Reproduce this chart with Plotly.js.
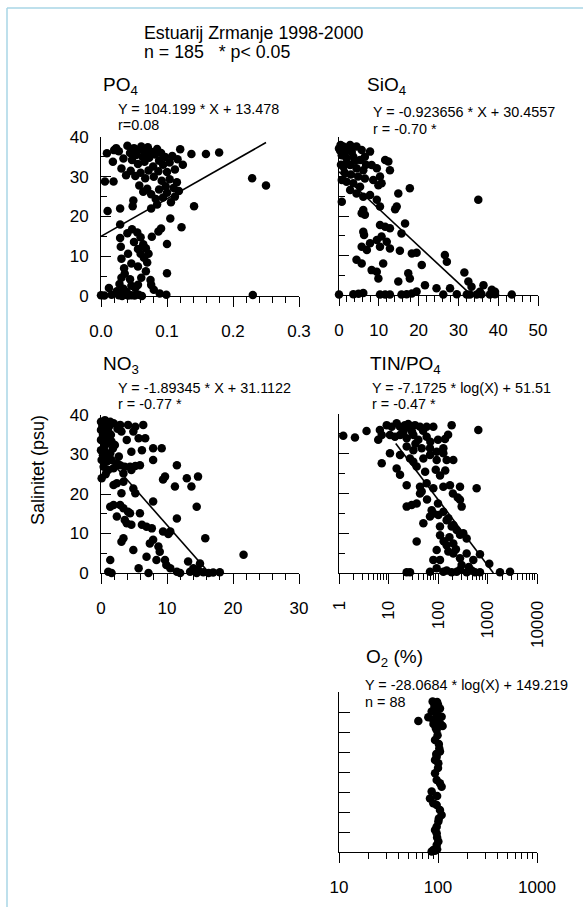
<!DOCTYPE html>
<html>
<head>
<meta charset="utf-8">
<script src="https://cdn.plot.ly/plotly-3.0.1.min.js"></script>
<style>html,body{margin:0;padding:0;background:#fff;}#chart{width:583px;height:907px;}</style>
</head>
<body>
<div id="chart"></div>
<script>
// ---------------- DATA ----------------
const po4Pts = [
[0.009,35.9],[0.020,36.7],[0.023,37.2],[0.018,33.8],[0.006,28.8],[0.019,28.8],[0.010,21.4],[0.031,32.1],
[0.040,37.8],[0.044,36.0],[0.047,34.2],[0.050,37.2],[0.053,35.5],[0.056,33.2],[0.058,36.8],[0.061,37.6],[0.063,35.0],[0.066,33.8],[0.068,36.4],[0.071,37.4],[0.073,34.8],[0.076,36.2],[0.079,32.6],[0.082,35.6],[0.085,37.0],[0.088,34.0],[0.091,36.0],[0.094,33.0],[0.097,35.0],[0.100,31.2],[0.104,33.6],[0.108,35.2],[0.112,31.8],[0.116,34.4],[0.120,36.9],[0.124,33.0],
[0.045,31.5],[0.052,30.2],[0.060,31.0],[0.067,29.6],[0.072,31.6],[0.080,30.0],[0.087,31.4],[0.092,29.0],[0.098,27.6],[0.104,29.4],[0.110,27.2],[0.115,28.6],[0.118,26.4],
[0.058,27.8],[0.064,26.2],[0.070,27.0],[0.076,25.6],[0.083,24.4],[0.088,26.8],[0.094,24.8],[0.100,26.0],[0.106,23.6],[0.112,25.0],[0.076,22.0],[0.085,23.0],
[0.029,22.0],[0.048,22.6],[0.049,24.0],[0.038,30.4],[0.034,34.6],[0.027,36.4],
[0.137,35.7],[0.159,35.7],[0.179,36.1],[0.229,29.6],[0.250,27.8],[0.141,22.6],
[0.029,18.0],[0.122,17.3],[0.105,19.5],[0.091,17.0],[0.087,16.2],[0.100,13.1],[0.100,5.7],[0.077,14.9],
[0.029,14.6],[0.040,15.8],[0.047,16.8],[0.055,16.0],[0.060,14.8],[0.064,13.0],[0.056,11.8],[0.068,12.0],[0.072,10.6],[0.030,12.4],[0.031,9.4],[0.046,8.2],[0.056,7.4],[0.065,9.6],[0.070,8.4],[0.060,10.6],[0.050,13.6],[0.035,7.0],[0.041,10.6],[0.036,5.6],[0.044,4.2],[0.031,4.6],[0.028,3.0],[0.046,2.6],[0.052,2.0],[0.034,1.8],[0.039,1.0],[0.056,2.8],[0.061,4.6],[0.068,6.2],[0.075,4.0],[0.076,2.8],[0.080,1.6],[0.089,0.6],[0.024,1.2],[0.012,2.0],
[0.000,0.2],[0.005,0.1],[0.016,0.3],[0.027,0.2],[0.032,0.0],[0.036,0.3],[0.041,0.1],[0.046,0.2],[0.051,0.1],[0.057,0.3],[0.062,0.0],[0.099,0.3],[0.230,0.25]
];
const po4LineX = [0, 0.25];
const po4LineY = [15.0, 38.6];

const sio4Pts = [
[0,37.1],[1.1,37.6],[2.8,38.0],[4.4,37.6],[5.7,36.7],[7.8,36.3],
[0.7,35.4],[1.9,34.6],[3.6,35.0],[5.3,34.2],[6.5,35.0],
[1.1,32.5],[2.8,32.9],[4.4,32.1],[6.1,31.6],
[8.2,32.9],[9.5,32.1],[11.6,34.2],[12.4,33.8],[12.8,31.6],[10.3,30.0],
[0.7,29.1],[1.9,28.7],[3.6,28.3],[5.3,27.4],[6.5,29.5],[8.6,29.1],[9.9,27.8],[10.7,28.3],
[2.8,26.6],[4.4,25.7],[6.1,24.9],[7.8,25.3],[0.7,23.6],[9.5,24.1],[10.3,22.4],
[14.9,25.7],[17.8,27.0],[35.0,24.1],[14.5,22.4],[14.1,21.7],
[6.1,21.5],[6.5,20.3],[5.7,20.7],[10.3,17.7],[11.6,17.3],[12.8,16.9],
[16.6,18.1],[6.1,16.0],[6.3,15.2],[15.7,15.6],
[7.8,13.1],[9.5,13.9],[10.7,14.8],[10.3,12.2],[12.0,13.5],[12.8,11.8],[5.7,12.2],[7.0,11.4],
[15.3,11.2],[18.3,10.5],[19.5,10.7],[20.8,7.6],[26.6,10.1],[27.1,8.4],
[4.4,8.9],[5.7,8.0],[8.2,6.3],[9.5,5.9],[9.9,4.2],[11.1,8.0],
[14.9,3.4],[17.4,5.5],[17.8,4.2],[21.6,2.5],[24.5,1.7],[27.9,1.7],[31.5,5.7],
[32.5,3.4],[33.3,2.1],[36.3,2.5],[35.4,0.8],[39.2,0.8],[38.4,1.3],
[0,0.1],[3.6,0.2],[4.9,0.3],[6.1,0.5],[10.3,0.1],[11.6,0.1],[12.8,0.1],[15.7,0.1],[17.0,0.2],[18.3,0.4],[19.5,0.9],[26.2,0.1],[29.6,0.2],[32.1,0.1],[32.9,0.1],[34.6,0.1],[35.8,0.2],[37.9,0.1],[39.2,0.2],[43.4,0.1],
[0.3,36.5],[1.5,36.0],[2.2,37.0],[3.2,36.2],[4.0,34.0],[2.0,33.5],[0.5,33.0],[1.4,31.0],[3.0,30.5],[4.8,30.0],[0.4,38.0],[6.8,33.0]
];
const sio4LineX = [0, 33];
const sio4LineY = [31.2, 0.2];

const no3Pts = [
[0,38.3],[0.6,38.7],[1.4,38.3],[1.9,37.9],[0,36.2],[0.6,36.6],[1.1,35.8],
[0,33.7],[0.4,34.1],[0.9,32.8],[1.6,33.3],[2.1,32.4],[0,31.1],[0.6,30.7],[1.4,30.3],
[0.1,28.6],[0.9,28.2],[1.6,28.6],[2.4,27.8],[0.4,26.9],[1.1,26.1],[1.9,26.5],
[2.9,37.5],[3.1,35.8],[4.1,37.5],[4.9,35.8],[5.2,37.0],[6.4,37.5],
[3.9,33.7],[5.7,34.1],[6.7,34.1],[4.6,30.7],[6.2,31.1],[7.9,31.6],[9.2,31.6],[7.9,28.6],
[2.9,27.3],[3.6,26.9],[4.4,26.9],[5.2,27.1],[5.9,27.3],[3.4,25.2],[4.6,26.1],
[11.5,27.3],[9.7,24.4],[9.4,23.7],[13.0,24.0],[13.7,21.9],[14.7,24.4],[11.2,21.9],
[1.9,22.3],[2.4,22.7],[3.4,23.1],[4.9,21.4],[5.2,20.2],[3.1,20.2],[7.9,18.1],[14.5,16.8],
[1.4,16.8],[1.9,17.2],[2.9,17.2],[3.4,16.4],[4.1,15.5],[4.4,15.1],
[2.4,14.3],[3.6,13.4],[3.9,12.6],[4.6,12.2],[5.9,15.1],[6.2,12.2],[6.9,11.7],[7.7,11.3],
[11.5,13.8],[9.4,10.5],[10.5,10.5],[10.2,9.9],
[3.4,8.8],[3.1,7.9],[7.9,8.4],[8.7,6.7],[7.4,7.5],[8.9,5.4],[8.4,3.3],[4.9,5.8],[6.9,4.1],
[15.8,8.8],[21.6,4.6],[13.2,2.9],[14.0,1.2],[15.0,2.4],[14.7,0.8],
[1.4,3.3],[1.1,0.3],[1.6,0.0],[5.7,1.2],[7.2,0],[10.5,1.2],[11.5,0.3],[12.0,0],[13.5,0.3],[14.5,0],[15.5,0.2],[16.3,0],[17.0,0.1],[18.0,0.2],
[9.9,2.0],[9.7,3.3],
[0.3,35.0],[0.8,34.5],[1.2,37.0],[0.2,37.2],[0.5,32.0],[1.0,29.5],[0.3,29.8],[1.5,35.0],[2.5,36.5],[1.8,31.5],[2.7,29.5],[0.1,24.0],[0.7,25.0]
];
const no3LineX = [0, 16.4];
const no3LineY = [31.1, 0];

const tinPts = [
[1.22,34.5],[2.1,34.1],[3.6,35.7],[6.7,36.0],[7.3,34.7],[6.2,33.5],
[9.2,37.2],[11.6,36.8],[14.6,37.7],[17.1,36.8],[21.5,37.2],[27.2,36.4],[34.3,37.2],[43.3,36.8],[59.0,36.8],[80.5,36.8],[188.8,37.2],
[10.7,34.7],[13.5,34.3],[17.1,34.7],[23.3,33.9],[31.8,34.7],[40.1,33.5],[59.0,34.3],
[138.5,33.7],[652.3,36.0],
[10.7,30.1],[17.1,29.7],[27.2,28.8],[7.3,27.6],[14.6,26.3],[17.1,24.7],
[23.3,22.1],[43.3,21.7],[59.0,22.6],[80.5,21.3],[128.2,21.7],[174.7,22.1],[278.2,21.7],[603.7,21.3],
[31.8,28.0],[37.1,26.8],[50.6,28.8],[68.9,29.7],[94.0,28.4],[128.2,30.1],[149.6,28.4],[204.0,28.4],
[23.3,31.8],[31.8,30.9],[46.8,31.4],[68.9,31.4],[94.0,30.5],[128.2,31.4],
[43.3,20.0],[46.8,20.5],[278.2,18.4],[300.6,16.7],[23.3,16.7],[29.4,17.1],[37.1,17.5],
[74.5,15.8],[80.5,15.0],[101.6,14.6],[128.2,15.4],[149.6,13.3],[37.1,7.9],
[50.6,12.5],[68.9,14.2],[109.7,11.7],[161.7,13.8],[188.8,11.7],[204.0,12.1],[238.3,10.8],[278.2,9.6],[324.8,10.0],[379.3,8.7],
[94.0,5.8],[80.5,3.3],[109.7,3.3],[161.7,5.4],[204.0,4.9],[278.2,3.7],[379.3,4.9],[517.1,3.3],
[704.8,4.7],[1088,2.3],[1787,0.2],[2849,0.3],[23.3,0.2],[27.2,0.2],
[68.9,0.3],[94.0,1.2],[128.2,0.3],[149.6,0.6],[188.8,0.2],[238.3,0.3],[278.2,0.8],[379.3,0.2],[478.6,0.6],[558.8,0.2],[704.8,0.2],
[149.6,7.0],[204.0,7.4],
[20,35.5],[25,37.5],[30,35.5],[50,35.8],[70,33.0],[100,33.5],[160,34.8],[35,32.5],[55,25.5],[90,26.0],[110,24.5],[140,25.8],[200,20.0],[250,19.0],[110,9.5],[130,8.0],[170,9.0],[230,6.0],[300,2.0],[420,1.5],[100,17.5],[60,18.5]
];
const tinLineX = [14, 1314];
const tinLineY = [32.6, 0];

const o2Pts = [
[88.3,37.6],[93.3,37.2],[97,36.3],[104.7,35.9],[86.3,35.1],[95.5,34.7],[108.8,33.8],[79.8,33.7],[89.7,33.0],[100.8,32.6],[111.3,31.5],[97,30.5],[93.3,28],[103,25.9],[104.7,25.1],[97,23.8],[93.3,23],[100.8,22.2],[93.3,19.7],[97,18],[104.7,17.2],[108.8,16.3],[86.3,15.1],[83,13.4],[89.7,12.2],[97,11.75],[104.7,10.5],[108.8,9.25],[100.8,7.6],[97,6.3],[93.3,5.5],[97,4.7],[100.8,2.6],[97,1.75],[89.7,0.5],[86.3,0.1],[93.3,0.3],[98,0.7],[63.3,32.75],
[92,36.5],[98,37.5],[102,34.0],[90,32.0],[95,31.0],[100,36.8],[96,33.5],[106,32.0],[91,35.5],[99,29.2],[102,27.0],[96,24.5],[100,21.0],[98,14.0],[102,8.4],[98,3.6]
];

const figTitle = "Estuarij Zrmanje 1998-2000";
const figSubtitle = "n = 185\u00a0\u00a0\u00a0* p< 0.05";
const yLabel = "Salinitet (psu)";
const panelNames = ["PO<sub>4</sub>", "SiO<sub>4</sub>", "NO<sub>3</sub>", "TIN/PO<sub>4</sub>", "O<sub>2</sub> (%)"];
const equations = ["Y = 104.199 * X + 13.478", "Y = -0.923656 * X + 30.4557", "Y = -1.89345 * X + 31.1122", "Y = -7.1725 * log(X) + 51.51", "Y = -28.0684 * log(X) + 149.219"];
const stats = ["r=0.08", "r = -0.70 *", "r = -0.77 *", "r = -0.47 *", "n = 88"];
const po4Ticks = ["0.0", "0.1", "0.2", "0.3"];
const tinTickVals = [1, 10, 100, 1000, 10000];
const tinTickText = ["1", "10", "100", "1000", "10000"];
const o2TickVals = [10, 100, 1000];
const o2TickText = ["10", "100", "1000"];

// ---------------- LAYOUT HELPERS ----------------
const W = 583, H = 907;
const px = v => v / W;
const py = v => 1 - v / H;
const FONT = "Liberation Sans, Arial, Helvetica, sans-serif";

function xAx(x0, x1, yAnchor, extra) {
  return Object.assign({
    domain: [px(x0), px(x1)], anchor: yAnchor,
    showline: true, linecolor: "black", linewidth: 1, mirror: false,
    showgrid: false, zeroline: false,
    ticks: "outside", ticklen: 10, tickwidth: 1, tickcolor: "black",
    tickfont: {size: 17, color: "black", family: FONT},
    ticklabelstandoff: 10, fixedrange: true
  }, extra);
}
function yAx(y0, y1, xAnchor, extra) {
  return Object.assign({
    domain: [py(y1), py(y0)], anchor: xAnchor, range: [0, 40],
    showline: true, linecolor: "black", linewidth: 1,
    showgrid: false, zeroline: false,
    ticks: "inside", ticklen: 10, tickwidth: 1, tickcolor: "black",
    tickmode: "linear", tick0: 0, dtick: 10,
    minor: {ticks: "inside", ticklen: 6, dtick: 5, tick0: 0, tickcolor: "black", showgrid: false},
    tickfont: {size: 17, color: "black", family: FONT},
    ticklabelstandoff: 8, fixedrange: true
  }, extra);
}
const minorLin = d => ({ticks: "outside", ticklen: 6, dtick: d, tick0: 0, tickcolor: "black", showgrid: false});
const minorLog = {ticks: "outside", ticklen: 6, dtick: "D1", tickcolor: "black", showgrid: false};

function pts(arr, xa, ya) {
  return {x: arr.map(p => p[0]), y: arr.map(p => p[1]), xaxis: xa, yaxis: ya,
    type: "scatter", mode: "markers", cliponaxis: false, hoverinfo: "skip",
    marker: {color: "black", size: 8.5, line: {width: 0}}};
}
function line(xs, ys, xa, ya) {
  return {x: xs, y: ys, xaxis: xa, yaxis: ya, type: "scatter", mode: "lines",
    cliponaxis: false, hoverinfo: "skip", line: {color: "black", width: 1.6}};
}

const traces = [
  pts(po4Pts, "x", "y"), line(po4LineX, po4LineY, "x", "y"),
  pts(sio4Pts, "x2", "y2"), line(sio4LineX, sio4LineY, "x2", "y2"),
  pts(no3Pts, "x3", "y3"), line(no3LineX, no3LineY, "x3", "y3"),
  pts(tinPts, "x4", "y4"), line(tinLineX, tinLineY, "x4", "y4"),
  pts(o2Pts, "x5", "y5")
];

function ann(text, x, y, size, extra) {
  return Object.assign({text: text, x: px(x), y: py(y), xref: "paper", yref: "paper",
    xanchor: "left", yanchor: "middle", showarrow: false, borderpad: 0,
    font: {size: size, color: "black", family: FONT}}, extra || {});
}

const EQ = 14.4;
const annotations = [
  ann(figTitle, 143, 33, 17.8),
  ann(figSubtitle, 143, 52, 17.8),
  ann(yLabel, 38, 470, 18, {textangle: -90, xanchor: "center"}),
  ann(panelNames[0], 102, 86, 19),
  ann(equations[0], 117, 109, EQ), ann(stats[0], 117, 125, EQ),
  ann(panelNames[1], 366, 86, 19),
  ann(equations[1], 372, 112, EQ), ann(stats[1], 372, 129, EQ),
  ann(panelNames[2], 102, 365, 19),
  ann(equations[2], 117, 388, EQ), ann(stats[2], 117, 404, EQ),
  ann(panelNames[3], 369, 365, 19),
  ann(equations[3], 371, 388, EQ), ann(stats[3], 371, 404, EQ),
  ann(panelNames[4], 365, 658, 19),
  ann(equations[4], 364, 685, EQ), ann(stats[4], 364, 702, EQ)
];

const layout = {
  width: W, height: H, margin: {l: 0, r: 0, t: 0, b: 0},
  paper_bgcolor: "white", plot_bgcolor: "rgba(0,0,0,0)",
  showlegend: false, font: {family: FONT, color: "black"},
  xaxis: xAx(101, 299, "y", {range: [0, 0.3], tickmode: "array", tickvals: [0, 0.1, 0.2, 0.3], ticktext: po4Ticks, minor: minorLin(0.02)}),
  yaxis: yAx(137, 296, "x"),
  xaxis2: xAx(339, 538, "y2", {range: [0, 50], tickmode: "linear", tick0: 0, dtick: 10, minor: minorLin(2)}),
  yaxis2: yAx(137, 295, "x2", {showticklabels: false}),
  xaxis3: xAx(101, 299, "y3", {range: [0, 30], tickmode: "linear", tick0: 0, dtick: 10, minor: minorLin(2)}),
  yaxis3: yAx(415, 573, "x3"),
  xaxis4: xAx(339, 537, "y4", {type: "log", range: [0, 4], tickmode: "array", tickvals: tinTickVals, ticktext: tinTickText, tickangle: -90, minor: minorLog}),
  yaxis4: yAx(414, 573, "x4", {showticklabels: false}),
  xaxis5: xAx(339, 537, "y5", {type: "log", range: [1, 3], tickmode: "array", tickvals: o2TickVals, ticktext: o2TickText, minor: minorLog}),
  yaxis5: yAx(692, 852, "x5", {showticklabels: false, ticklen: 11, minor: {ticks: "inside", ticklen: 11, dtick: 5, tick0: 0, tickcolor: "black", showgrid: false}}),
  annotations: annotations,
  shapes: [
    {type: "line", xref: "paper", yref: "paper", x0: px(7), x1: px(7), y0: 0, y1: py(8), line: {color: "#a8d6e6", width: 1.5}},
    {type: "line", xref: "paper", yref: "paper", x0: px(7), x1: 1, y0: py(8), y1: py(8), line: {color: "#a8d6e6", width: 1.5}}
  ]
};

Plotly.newPlot("chart", traces, layout, {staticPlot: true, displayModeBar: false});
</script>
</body>
</html>
